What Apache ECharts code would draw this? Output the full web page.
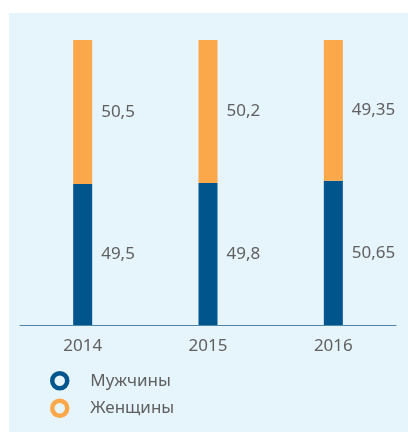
<!DOCTYPE html>
<html>
<head>
<meta charset="utf-8">
<script src="https://cdn.jsdelivr.net/npm/echarts@6/dist/echarts.min.js"></script>
<style>
html,body{margin:0;padding:0;background:#ffffff;}
#chart{width:408px;height:432px;}
</style>
</head>
<body>
<div id="chart"></div>
<script>
const categories = ['2014', '2015', '2016'];
const menValues = [49.5, 49.8, 50.65];
const womenValues = [50.5, 50.2, 49.35];
const seriesNames = ['Мужчины', 'Женщины'];

const BG = '#e6f4fc';
const BLUE = '#00558c';
const ORANGE = '#fba84a';
const FONT = 'Noto Sans';
const TXT = '#606060';

const chart = echarts.init(document.getElementById('chart'), null, {renderer: 'canvas'});
const fmt = p => String(p.value).replace('.', ',');

chart.setOption({
  animation: false,
  textStyle: {fontFamily: FONT},
  graphic: [{
    type: 'rect', z: -100, silent: true,
    shape: {x: 9, y: 13, width: 399, height: 419},
    style: {fill: BG}
  }],
  grid: {left: 20, right: 12, top: 40, bottom: 107, containLabel: false},
  xAxis: {
    type: 'category',
    data: categories,
    axisLine: {lineStyle: {color: '#4f86ad', width: 1}},
    axisTick: {show: false},
    axisLabel: {color: TXT, fontSize: 17, margin: 13, fontFamily: FONT}
  },
  yAxis: {
    type: 'value', min: 0, max: 100,
    show: false, splitLine: {show: false}
  },
  legend: {
    orient: 'vertical', left: 45, top: 366, itemGap: 8,
    itemWidth: 15, itemHeight: 15, icon: 'circle',
    textStyle: {color: TXT, fontSize: 17, fontFamily: FONT, padding: [0, 0, 0, 18]},
    data: [
      {name: seriesNames[0], itemStyle: {color: BG, borderColor: BLUE, borderWidth: 4.5}},
      {name: seriesNames[1], itemStyle: {color: BG, borderColor: ORANGE, borderWidth: 4.5}}
    ]
  },
  series: [
    {
      name: seriesNames[0], type: 'bar', stack: 'total', data: menValues,
      barWidth: 19, itemStyle: {color: BLUE},
      label: {show: true, position: 'right', distance: 9, color: TXT, fontSize: 17, fontFamily: FONT, formatter: fmt}
    },
    {
      name: seriesNames[1], type: 'bar', stack: 'total', data: womenValues,
      barWidth: 19, itemStyle: {color: ORANGE},
      label: {show: true, position: 'right', distance: 9, color: TXT, fontSize: 17, fontFamily: FONT, formatter: fmt}
    }
  ]
});
</script>
</body>
</html>
